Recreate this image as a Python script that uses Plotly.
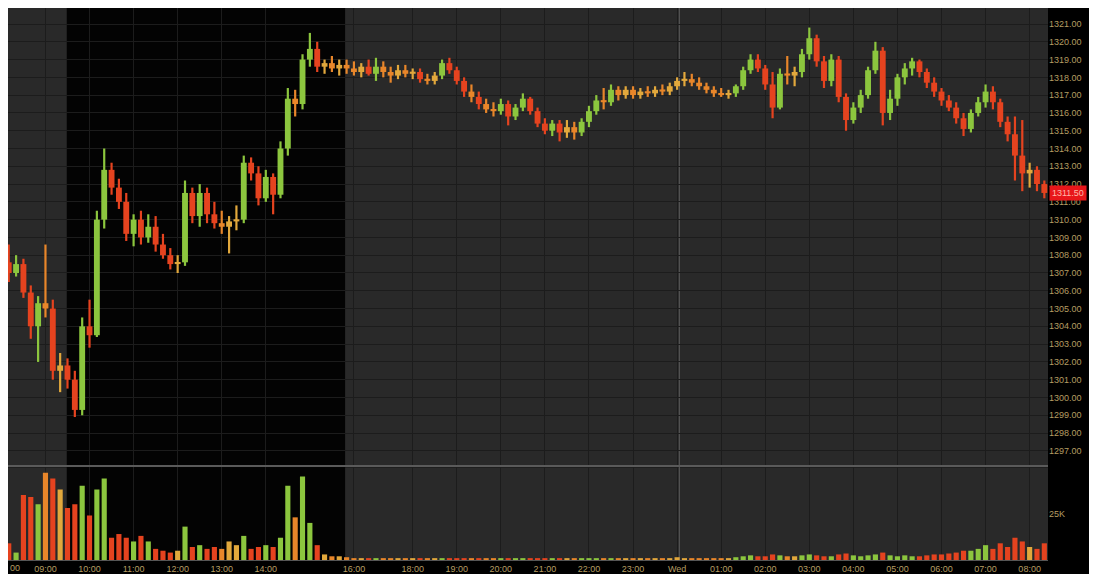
import plotly.graph_objects as go
import pandas as pd

# ---------------- data ----------------
# 10-minute bar start times (categories)
segments = [("2012-01-10 08:10", "2012-01-10 16:20"),
            ("2012-01-10 16:30", "2012-01-10 17:10"),
            ("2012-01-10 18:00", "2012-01-11 08:20")]
times = []
for a, b in segments:
    times += [t.strftime("%H:%M") for t in pd.date_range(a, b, freq="10min")]

opens = [1307.6, 1307.0, 1307.5, 1305.9, 1304.0, 1305.3, 1305.0, 1301.5, 1301.8, 1301.0,
         1299.3, 1304.0, 1303.5, 1310.0, 1312.8, 1311.8, 1311.0, 1309.2, 1310.0, 1309.0,
         1309.6, 1308.6, 1308.0, 1307.5, 1307.6, 1311.5, 1310.2, 1311.5, 1310.3, 1309.8,
         1309.6, 1309.9, 1310.0, 1313.2, 1312.6, 1311.2, 1312.4, 1311.4, 1314.0, 1316.8,
         1316.5, 1319.0, 1319.6, 1318.6, 1318.8, 1318.5, 1318.7, 1318.5, 1318.3, 1318.6,
         1318.2, 1318.6, 1318.3, 1318.1, 1318.4, 1318.2, 1318.3, 1317.9, 1317.8, 1318.1,
         1318.8, 1318.4, 1317.8, 1317.2, 1316.9, 1316.5, 1316.2, 1316.1, 1316.5, 1315.8,
         1316.3, 1316.8, 1316.1, 1315.4, 1315.0, 1315.4, 1314.9, 1315.2, 1314.9, 1315.5,
         1316.1, 1316.7, 1316.6, 1317.3, 1317.0, 1317.3, 1317.0, 1317.2, 1317.1, 1317.3,
         1317.2, 1317.5, 1317.8, 1317.9, 1317.7, 1317.5, 1317.3, 1317.1, 1317.0, 1317.1,
         1317.5, 1318.4, 1319.0, 1318.5, 1317.6, 1316.3, 1318.2, 1318.1, 1318.3, 1319.3,
         1320.2, 1318.9, 1317.8, 1319.0, 1316.9, 1315.6, 1316.3, 1317.0, 1318.4, 1319.5,
         1316.0, 1316.8, 1318.0, 1318.5, 1318.9, 1318.3, 1317.7, 1317.2, 1316.7, 1316.3,
         1315.7, 1315.1, 1316.0, 1316.6, 1317.2, 1316.6, 1315.5, 1314.8, 1313.6, 1312.6,
         1312.8, 1312.0]
highs = [1308.6, 1308.0, 1307.8, 1306.3, 1305.7, 1308.6, 1305.5, 1302.5, 1302.2, 1301.5,
         1304.5, 1305.5, 1310.5, 1314.0, 1313.2, 1312.3, 1311.5, 1310.3, 1310.5, 1310.3,
         1310.2, 1309.2, 1308.4, 1308.0, 1312.2, 1311.8, 1312.0, 1311.8, 1311.0, 1310.5,
         1310.2, 1310.8, 1313.6, 1313.5, 1313.0, 1312.8, 1312.6, 1314.4, 1317.4, 1317.3,
         1319.3, 1320.5, 1320.0, 1319.0, 1319.2, 1319.0, 1319.0, 1318.9, 1318.8, 1319.0,
         1319.1, 1318.9, 1318.6, 1318.7, 1318.7, 1318.5, 1318.5, 1318.2, 1318.3, 1319.0,
         1319.1, 1318.6, 1318.0, 1317.6, 1317.2, 1316.8, 1316.6, 1316.8, 1316.7, 1316.5,
         1317.1, 1316.9, 1316.3, 1315.7, 1315.6, 1315.6, 1315.6, 1315.5, 1315.7, 1316.4,
         1317.0, 1317.4, 1317.6, 1317.5, 1317.5, 1317.5, 1317.4, 1317.5, 1317.5, 1317.6,
         1317.7, 1318.0, 1318.3, 1318.2, 1318.0, 1317.7, 1317.5, 1317.4, 1317.3, 1317.6,
         1318.6, 1319.3, 1319.3, 1318.7, 1318.3, 1318.5, 1319.2, 1318.6, 1319.6, 1320.8,
         1320.4, 1319.2, 1319.3, 1319.2, 1317.1, 1316.6, 1317.3, 1318.6, 1320.0, 1319.7,
         1317.3, 1318.2, 1318.8, 1319.1, 1319.0, 1318.5, 1318.0, 1317.4, 1317.0, 1316.6,
         1316.0, 1316.2, 1316.9, 1317.6, 1317.5, 1316.8, 1315.8, 1315.8, 1315.6, 1313.2,
         1313.0, 1312.2]
lows = [1306.5, 1306.8, 1305.6, 1303.3, 1302.0, 1304.5, 1301.0, 1300.3, 1300.5, 1298.9,
        1299.0, 1302.8, 1303.4, 1309.5, 1311.4, 1310.6, 1308.8, 1308.5, 1308.6, 1308.7,
        1308.2, 1307.8, 1307.2, 1307.0, 1307.4, 1309.8, 1309.6, 1309.8, 1309.5, 1309.2,
        1308.1, 1309.4, 1309.8, 1312.2, 1310.8, 1311.0, 1310.3, 1311.2, 1313.6, 1315.8,
        1316.2, 1318.6, 1318.3, 1318.2, 1318.3, 1318.1, 1318.2, 1318.1, 1318.0, 1318.1,
        1317.8, 1318.0, 1317.7, 1317.9, 1318.0, 1317.9, 1317.7, 1317.6, 1317.6, 1317.9,
        1318.2, 1317.6, 1316.9, 1316.6, 1316.2, 1316.0, 1315.8, 1315.9, 1315.3, 1315.6,
        1316.1, 1315.9, 1315.2, 1314.8, 1314.7, 1314.4, 1314.6, 1314.5, 1314.7, 1315.2,
        1315.9, 1316.2, 1316.4, 1316.7, 1316.8, 1316.8, 1316.8, 1316.9, 1316.9, 1317.0,
        1317.0, 1317.3, 1317.5, 1317.5, 1317.3, 1317.1, 1316.9, 1316.9, 1316.8, 1316.9,
        1317.3, 1318.2, 1318.3, 1317.3, 1315.7, 1316.2, 1317.6, 1317.5, 1318.0, 1319.0,
        1318.6, 1317.4, 1317.5, 1316.6, 1315.0, 1315.4, 1316.0, 1316.8, 1318.2, 1315.3,
        1315.6, 1316.4, 1317.6, 1318.1, 1318.0, 1317.4, 1316.9, 1316.4, 1316.1, 1315.4,
        1314.7, 1314.9, 1315.8, 1316.3, 1316.2, 1315.2, 1314.4, 1312.2, 1311.6, 1311.8,
        1311.6, 1311.2]
closes = [1307.0, 1307.5, 1305.9, 1304.0, 1305.3, 1305.0, 1301.5, 1301.8, 1301.0, 1299.3,
          1304.0, 1303.5, 1310.0, 1312.8, 1311.8, 1311.0, 1309.2, 1310.0, 1309.0, 1309.6,
          1308.6, 1308.0, 1307.5, 1307.6, 1311.5, 1310.2, 1311.5, 1310.3, 1309.8, 1309.6,
          1309.9, 1310.0, 1313.2, 1312.6, 1311.2, 1312.4, 1311.4, 1314.0, 1316.8, 1316.5,
          1319.0, 1319.6, 1318.6, 1318.8, 1318.5, 1318.7, 1318.5, 1318.3, 1318.6, 1318.2,
          1318.6, 1318.3, 1318.1, 1318.4, 1318.2, 1318.3, 1317.9, 1317.8, 1318.1, 1318.8,
          1318.4, 1317.8, 1317.2, 1316.9, 1316.5, 1316.2, 1316.1, 1316.5, 1315.8, 1316.3,
          1316.8, 1316.1, 1315.4, 1315.0, 1315.4, 1314.9, 1315.2, 1314.9, 1315.5, 1316.1,
          1316.7, 1316.6, 1317.3, 1317.0, 1317.3, 1317.0, 1317.2, 1317.1, 1317.3, 1317.2,
          1317.5, 1317.8, 1317.9, 1317.7, 1317.5, 1317.3, 1317.1, 1317.0, 1317.1, 1317.5,
          1318.4, 1319.0, 1318.5, 1317.6, 1316.3, 1318.2, 1318.1, 1318.3, 1319.3, 1320.2,
          1318.9, 1317.8, 1319.0, 1316.9, 1315.6, 1316.3, 1317.0, 1318.4, 1319.5, 1316.0,
          1316.8, 1318.0, 1318.5, 1318.9, 1318.3, 1317.7, 1317.2, 1316.7, 1316.3, 1315.7,
          1315.1, 1316.0, 1316.6, 1317.2, 1316.6, 1315.5, 1314.8, 1313.6, 1312.6, 1312.8,
          1312.0, 1311.5]
volume_k = [9, 4, 35, 34, 30, 47, 44, 38, 28, 30,
            40, 24, 38, 44, 12, 14, 12, 10, 13, 10,
            6, 5, 4, 5, 18, 7, 8, 6, 7, 6,
            10, 8, 13, 6, 7, 8, 7, 12, 40, 23,
            45, 20, 8, 3, 2, 2, 1.5, 1, 1, 1,
            1, 1, 1, 1, 1, 1, 1, 1, 1, 1,
            1, 1, 1, 1, 1, 1, 1, 1, 1, 1,
            1, 1, 1, 1, 1, 1, 1, 1, 1, 1,
            1, 1, 1, 1, 1, 1, 1, 1, 1, 1,
            1, 1.5, 1, 1, 1, 1, 1, 1, 1, 1.5,
            2, 2.5, 2, 2, 3, 2.5, 2, 2, 2.5, 3,
            2.5, 2, 2, 3, 3.5, 2.5, 2, 2.5, 3, 4,
            2.5, 2, 2.5, 2, 2, 2.5, 3, 3, 3.5, 4,
            5, 5, 6, 8, 6, 9, 7, 12, 10, 7,
            6, 9]
price_ticks = list(range(1297, 1322))
hour_ticks = ["09:00", "10:00", "11:00", "12:00", "13:00", "14:00", "16:00", "18:00",
              "19:00", "20:00", "21:00", "22:00", "23:00", "00:00", "01:00", "02:00",
              "03:00", "04:00", "05:00", "06:00", "07:00", "08:00"]
hour_labels = ["09:00", "10:00", "11:00", "12:00", "13:00", "14:00", "16:00", "18:00",
               "19:00", "20:00", "21:00", "22:00", "23:00", "Wed", "01:00", "02:00",
               "03:00", "04:00", "05:00", "06:00", "07:00", "08:00"]
last_price = 1311.50

# ---------------- styling ----------------
GREEN, AMBER, RED, ORANGE, PALE = "#8cc63e", "#e2a83c", "#e5431f", "#e8862a", "#cfd2c4"
TXT = "#b59d62"
n = len(times)
xs = list(range(n))

colors = []
for o, c in zip(opens, closes):
    d = c - o
    if d > 0.35:
        colors.append(GREEN)
    elif d > 0:
        colors.append(AMBER)
    elif d < -0.35:
        colors.append(RED)
    elif d < 0:
        colors.append(ORANGE)
    else:
        colors.append(PALE)

body_base = [min(o, c) for o, c in zip(opens, closes)]
body_h = [max(abs(c - o), 0.12) for o, c in zip(opens, closes)]
wick_h = [h - l for h, l in zip(highs, lows)]

fig = go.Figure()
fig.add_trace(go.Bar(x=xs, y=wick_h, base=lows, width=0.3,
                     marker=dict(color=colors, line=dict(width=0)),
                     xaxis="x", yaxis="y", hoverinfo="skip"))
fig.add_trace(go.Bar(x=xs, y=body_h, base=body_base, width=0.8,
                     marker=dict(color=colors, line=dict(width=0)),
                     xaxis="x", yaxis="y", hoverinfo="skip"))
fig.add_trace(go.Bar(x=xs, y=volume_k, width=0.7,
                     marker=dict(color=colors, line=dict(width=0)),
                     xaxis="x2", yaxis="y2", hoverinfo="skip"))

tick_idx = [times.index(t) for t in hour_ticks]
open_idx = times.index("09:30") - 0.1
close_idx = times.index("15:50") - 0.2
mid_idx = times.index("00:00") + 0.3

GRID = "#1c1c1c"
font = dict(family="Liberation Sans, Arial, sans-serif", size=9, color=TXT)
x_range = [-0.1, n - 0.5]

fig.update_layout(
    width=1089, height=566,
    margin=dict(l=0, r=49, t=0, b=14),
    paper_bgcolor="#000000", plot_bgcolor="#292929",
    barmode="overlay", showlegend=False, font=font,
    xaxis=dict(domain=[0, 1], range=x_range, anchor="y",
               tickvals=tick_idx, showticklabels=False, showgrid=True,
               gridcolor=GRID, zeroline=False, showline=False, ticks=""),
    xaxis2=dict(domain=[0, 1], range=x_range, anchor="y2", matches="x",
                tickvals=tick_idx, ticktext=hour_labels, showgrid=True,
                gridcolor=GRID, zeroline=False, showline=True, linecolor="#555555",
                ticks="", tickfont=font),
    yaxis=dict(domain=[0.172, 1], range=[1296.2, 1321.9], side="right", anchor="x",
               tickvals=price_ticks, ticktext=[f"{v:.2f}" for v in price_ticks],
               showgrid=True, gridcolor=GRID, zeroline=False, ticks="",
               tickfont=font),
    yaxis2=dict(domain=[0, 0.168], range=[0, 50], side="right", anchor="x2",
                tickvals=[25], ticktext=["25K"], showgrid=False, zeroline=False,
                ticks="", tickfont=font),
    shapes=[
        dict(type="rect", xref="x", yref="paper", x0=open_idx, x1=close_idx, y0=0, y1=1,
             fillcolor="#030303", line=dict(width=0), layer="below"),
        dict(type="line", xref="x", yref="paper", x0=mid_idx, x1=mid_idx, y0=0, y1=1,
             line=dict(color="#5c5c5c", width=1), layer="below"),
        dict(type="line", xref="paper", yref="paper", x0=0, x1=1, y0=0.1705, y1=0.1705,
             line=dict(color="#5a5a5a", width=2), layer="above"),
    ],
    annotations=[
        dict(xref="paper", yref="y", x=1.001, y=last_price, xanchor="left", yanchor="middle",
             text=f"{last_price:.2f}", showarrow=False, bgcolor="#e8161a",
             font=dict(family="Liberation Sans, Arial, sans-serif", size=9, color="#ffb8a8"),
             borderpad=2),
        dict(xref="paper", yref="paper", x=0, y=0, xanchor="left", yanchor="top",
             text="00", showarrow=False, yshift=-1, font=font),
    ],
)

fig.write_html("out.html")
